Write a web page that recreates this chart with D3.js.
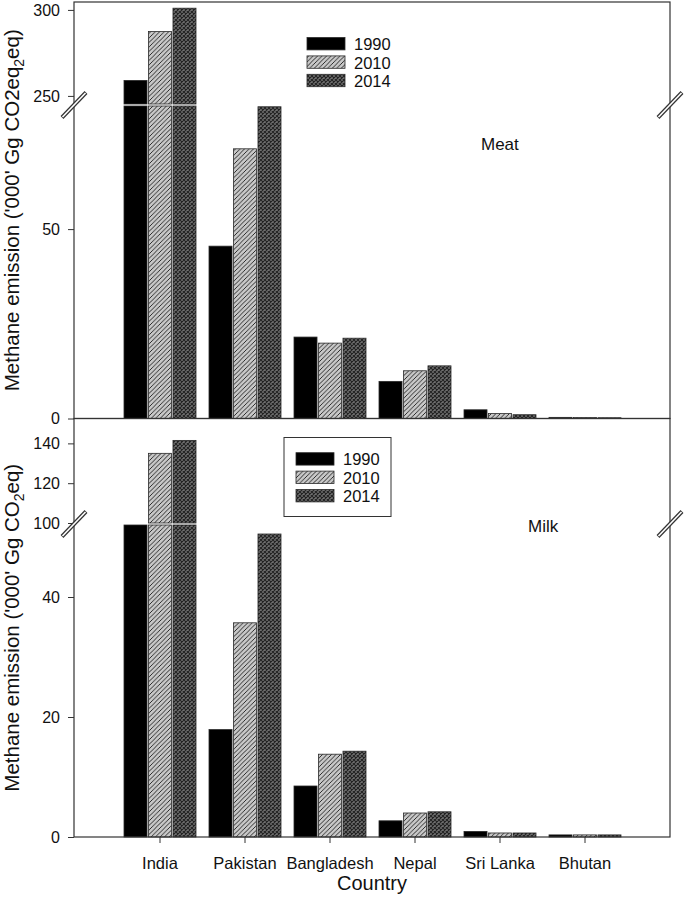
<!DOCTYPE html>
<html>
<head>
<meta charset="utf-8">
<script src="https://cdn.jsdelivr.net/npm/d3@7"></script>
<style>
  body { margin: 0; background: #fff; }
  svg { display: block; font-family: "Liberation Sans", Arial, sans-serif; }
</style>
</head>
<body>
<div id="chart"></div>
<script>
// data
const countries = ['India', 'Pakistan', 'Bangladesh', 'Nepal', 'Sri Lanka', 'Bhutan'];
const years = ['1990', '2010', '2014'];

const meat1990 = [259, 45.5, 21.5, 9.8, 2.3, 0.3];
const meat2010 = [287.4, 71.2, 19.9, 12.6, 1.3, 0.25];
const meat2014 = [301, 82.3, 21.2, 13.9, 1.0, 0.2];

const milk1990 = [52, 17.9, 8.5, 2.7, 0.93, 0.35];
const milk2010 = [135, 35.7, 13.8, 4.0, 0.67, 0.35];
const milk2014 = [141.5, 50.5, 14.3, 4.2, 0.67, 0.35];

const meatLowerTicks = [0, 50];
const meatUpperTicks = [250, 300];
const milkLowerTicks = [0, 20, 40];
const milkUpperTicks = [100, 120, 140];

const width = 685, height = 908;
const left = 74, right = 670;

const svg = d3.select('#chart').append('svg')
    .attr('width', width)
    .attr('height', height);

// fill patterns
const defs = svg.append('defs');

const hatch = defs.append('pattern')
    .attr('id', 'hatch')
    .attr('patternUnits', 'userSpaceOnUse')
    .attr('width', 4.5).attr('height', 4.5);
hatch.append('rect').attr('width', 4.5).attr('height', 4.5).attr('fill', '#c8c8c8');
hatch.append('path')
    .attr('d', 'M0,4.5 L4.5,0 M-1,1 L1,-1 M3.5,5.5 L5.5,3.5')
    .attr('stroke', '#111').attr('stroke-width', 0.85);

const cross = defs.append('pattern')
    .attr('id', 'cross')
    .attr('patternUnits', 'userSpaceOnUse')
    .attr('width', 4).attr('height', 4);
cross.append('rect').attr('width', 4).attr('height', 4).attr('fill', '#707070');
cross.append('path')
    .attr('d', 'M0,0 L4,4 M0,4 L4,0')
    .attr('stroke', '#222').attr('stroke-width', 1.05);

const fills = {'1990': '#000', '2010': 'url(#hatch)', '2014': 'url(#cross)'};

// x scales shared by both panels
const x0 = d3.scaleBand().domain(countries).range([117.5, 627.5]);
const x1 = d3.scaleBand().domain(years).range([-36, 36]).paddingInner(0.06);

function drawPanel(p) {
    const g = svg.append('g');

    const yLow = d3.scaleLinear().domain(p.lowDomain).range([p.bottom, p.breakY + 1]);
    const yUp = d3.scaleLinear().domain(p.upDomain).range([p.breakY - 1, p.top]);

    const rows = countries.map((c, i) => ({
        country: c,
        values: years.map((yr, j) => ({year: yr, value: p.series[j][i]}))
    }));

    const groups = g.selectAll('.country')
        .data(rows)
        .join('g')
        .attr('transform', d => 'translate(' + (x0(d.country) + x0.bandwidth() / 2) + ',0)');

    // lower part of each bar
    groups.selectAll('.low')
        .data(d => d.values)
        .join('rect')
        .attr('x', d => x1(d.year))
        .attr('width', x1.bandwidth())
        .attr('y', d => yLow(Math.min(d.value, p.lowDomain[1])))
        .attr('height', d => yLow(0) - yLow(Math.min(d.value, p.lowDomain[1])))
        .attr('fill', d => fills[d.year])
        .attr('stroke', '#2a2a2a')
        .attr('stroke-width', 0.8);

    // upper part above the break
    groups.selectAll('.up')
        .data(d => d.values.filter(v => v.value > p.upDomain[0]))
        .join('rect')
        .attr('x', d => x1(d.year))
        .attr('width', x1.bandwidth())
        .attr('y', d => yUp(d.value))
        .attr('height', d => yUp(p.upDomain[0]) - yUp(d.value))
        .attr('fill', d => fills[d.year])
        .attr('stroke', '#2a2a2a')
        .attr('stroke-width', 0.8);

    // frame
    g.append('rect')
        .attr('x', left).attr('y', p.top)
        .attr('width', right - left).attr('height', p.bottom - p.top)
        .attr('fill', 'none')
        .attr('stroke', '#333')
        .attr('stroke-width', 1.2);

    // y axes
    [[yLow, p.lowTicks], [yUp, p.upTicks]].forEach(([sc, tv]) => {
        const ax = g.append('g')
            .attr('transform', 'translate(' + left + ',0)')
            .call(d3.axisLeft(sc).tickValues(tv).tickSize(6).tickPadding(8));
        ax.select('.domain').remove();
        ax.selectAll('line').attr('stroke', '#333');
        ax.selectAll('text')
            .style('font-size', '16px')
            .style('font-family', '"Liberation Sans", Arial, sans-serif')
            .attr('fill', '#111');
    });

    // break marks
    [left, right].forEach(bx => {
        g.append('line')
            .attr('x1', bx - 12).attr('y1', p.breakY + 12.5)
            .attr('x2', bx + 12).attr('y2', p.breakY - 12.5)
            .attr('stroke', '#333').attr('stroke-width', 4);
        g.append('line')
            .attr('x1', bx - 11.5).attr('y1', p.breakY + 12)
            .attr('x2', bx + 11.5).attr('y2', p.breakY - 12)
            .attr('stroke', '#fff').attr('stroke-width', 1.6);
    });

    // y label
    const yl = g.append('text')
        .attr('transform', 'translate(19,' + ((p.top + p.bottom) / 2) + ') rotate(-90)')
        .attr('text-anchor', 'middle')
        .style('font-size', '20.5px')
        .attr('fill', '#111');
    yl.append('tspan').text(p.labelA);
    yl.append('tspan').attr('dy', 5).style('font-size', '14px').text('2');
    yl.append('tspan').attr('dy', -5).text(p.labelB);

    // panel title
    g.append('text')
        .attr('x', p.tagX).attr('y', p.tagY)
        .style('font-size', '17px')
        .attr('fill', '#111')
        .text(p.tag);

    // legend
    const lg = g.append('g');
    if (p.legendBox) {
        lg.append('rect')
            .attr('x', p.legendBox[0]).attr('y', p.legendBox[1])
            .attr('width', p.legendBox[2]).attr('height', p.legendBox[3])
            .attr('fill', '#fff').attr('stroke', '#333').attr('stroke-width', 1);
    }
    years.forEach((yr, j) => {
        const ly = p.legendY + j * 18.4;
        lg.append('rect')
            .attr('x', p.legendX).attr('y', ly)
            .attr('width', 38).attr('height', 12.4)
            .attr('fill', fills[yr])
            .attr('stroke', '#2a2a2a').attr('stroke-width', 0.8);
        lg.append('text')
            .attr('x', p.legendX + 47).attr('y', ly + 12.6)
            .style('font-size', '16.5px')
            .attr('fill', '#111')
            .text(yr);
    });
}

drawPanel({
    top: 2, bottom: 418.5, breakY: 105,
    lowDomain: [0, 82.5], upDomain: [245.3, 304.6],
    lowTicks: meatLowerTicks, upTicks: meatUpperTicks,
    series: [meat1990, meat2010, meat2014],
    labelA: "Methane emission ('000' Gg CO2eq", labelB: 'eq)',
    tag: 'Meat', tagX: 481, tagY: 150,
    legendX: 307, legendY: 37.5, legendBox: null
});

drawPanel({
    top: 418.5, bottom: 837, breakY: 524,
    lowDomain: [0, 52], upDomain: [100, 152.5],
    lowTicks: milkLowerTicks, upTicks: milkUpperTicks,
    series: [milk1990, milk2010, milk2014],
    labelA: "Methane emission ('000' Gg CO", labelB: 'eq)',
    tag: 'Milk', tagX: 528, tagY: 532,
    legendX: 296, legendY: 452.7, legendBox: [284, 437.5, 107, 79]
});

// x axis along the bottom panel
const xa = svg.append('g')
    .attr('transform', 'translate(0,837)')
    .call(d3.axisBottom(x0).tickSize(6).tickPadding(14));
xa.select('.domain').remove();
xa.selectAll('line').attr('stroke', '#333');
xa.selectAll('text')
    .style('font-size', '16.5px')
    .style('font-family', '"Liberation Sans", Arial, sans-serif')
    .attr('fill', '#111');

svg.append('text')
    .attr('x', (left + right) / 2).attr('y', 890)
    .attr('text-anchor', 'middle')
    .style('font-size', '20px')
    .attr('fill', '#111')
    .text('Country');
</script>
</body>
</html>
